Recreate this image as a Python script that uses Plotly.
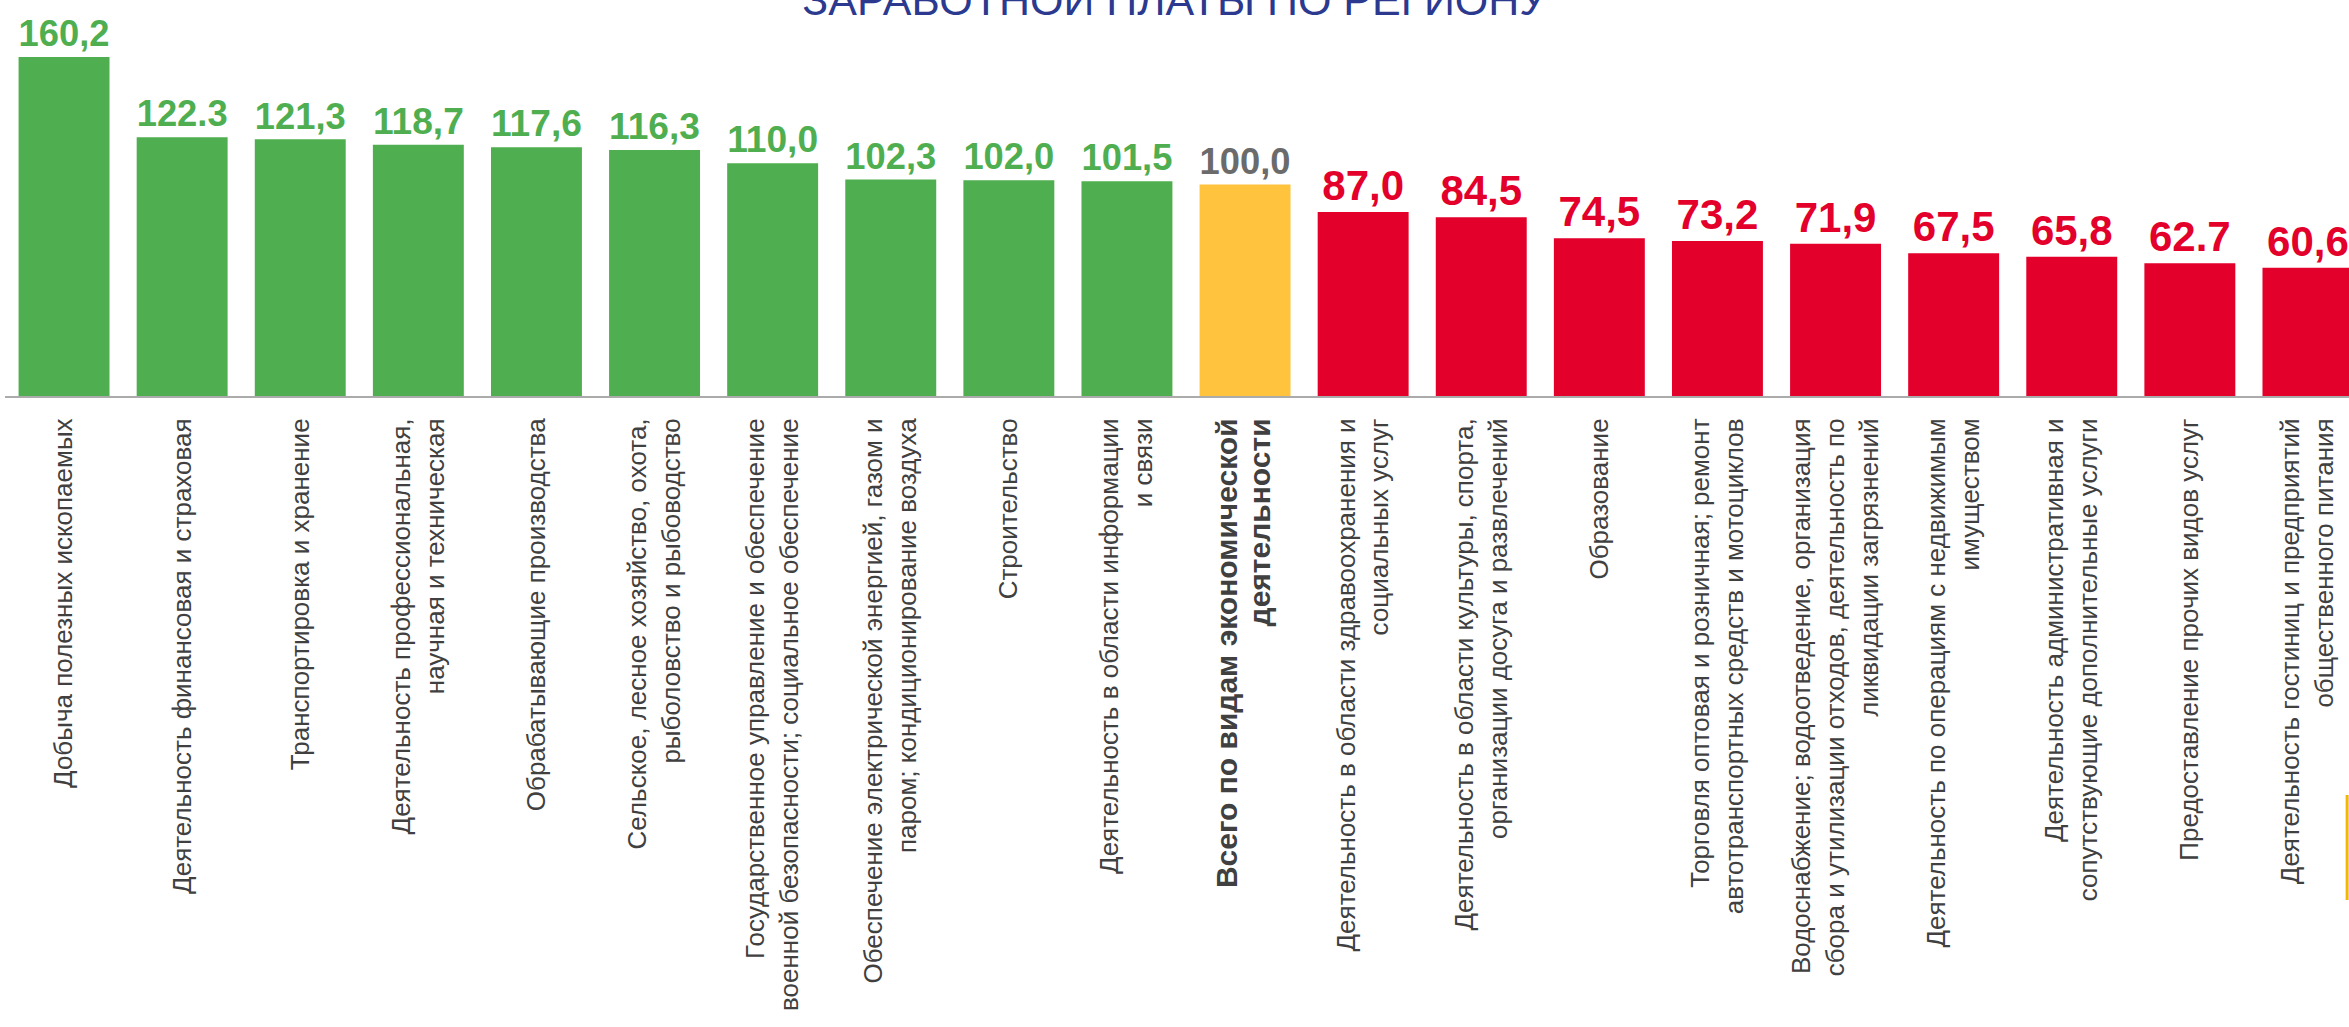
import plotly.graph_objects as go

categories = [
    "Добыча полезных ископаемых",
    "Деятельность финансовая и страховая",
    "Транспортировка и хранение",
    "Деятельность профессиональная,<br>научная и техническая",
    "Обрабатывающие производства",
    "Сельское, лесное хозяйство, охота,<br>рыболовство и рыбоводство",
    "Государственное управление и обеспечение<br>военной безопасности; социальное обеспечение",
    "Обеспечение электрической энергией, газом и<br>паром; кондиционирование воздуха",
    "Строительство",
    "Деятельность в области информации<br>и связи",
    "<span style='font-size:30px'><b>Всего по видам экономической<br>деятельности</b></span>",
    "Деятельность в области здравоохранения и<br>социальных услуг",
    "Деятельность в области культуры, спорта,<br>организации досуга и развлечений",
    "Образование",
    "Торговля оптовая и розничная; ремонт<br>автотранспортных средств и мотоциклов",
    "Водоснабжение; водоотведение, организация<br>сбора и утилизации отходов, деятельность по<br>ликвидации загрязнений",
    "Деятельность по операциям с недвижимым<br>имуществом",
    "Деятельность административная и<br>сопутствующие дополнительные услуги",
    "Предоставление прочих видов услуг",
    "Деятельность гостиниц и предприятий<br>общественного питания",
]

values = [160.2, 122.3, 121.3, 118.7, 117.6, 116.3, 110.0, 102.3, 102.0, 101.5,
          100.0, 87.0, 84.5, 74.5, 73.2, 71.9, 67.5, 65.8, 62.7, 60.6]

value_labels = ["160,2", "122.3", "121,3", "118,7", "117,6", "116,3", "110,0", "102,3",
                "102,0", "101,5", "100,0", "87,0", "84,5", "74,5", "73,2", "71,9",
                "67,5", "65,8", "62.7", "60,6"]

GREEN = "#4FAE4F"
YELLOW = "#FFC33D"
RED = "#E3002B"
GREY_TXT = "#6B6B6B"
TOTAL = 100.0

bar_colors = [GREEN if v > TOTAL else (YELLOW if v == TOTAL else RED) for v in values]
text_colors = [GREEN if v > TOTAL else (GREY_TXT if v == TOTAL else RED) for v in values]

x_idx = list(range(len(categories)))

fig = go.Figure()
fig.add_trace(go.Bar(
    x=x_idx,
    y=values,
    marker=dict(color=bar_colors, line=dict(width=0)),
    text=value_labels,
    textposition="outside",
    textfont=dict(family="Liberation Sans, Arial, sans-serif", size=42,
                  color=text_colors, weight="bold"),
    cliponaxis=False,
    hoverinfo="skip",
))

W, H = 2349, 1027
ml, mr, mt, mb = 5, 0, 0, 631
plot_w = W - ml - mr
step = 118.1
x_max = -0.5 + plot_w / step

fig.update_layout(
    width=W, height=H,
    margin=dict(l=ml, r=mr, t=mt, b=mb, pad=0, autoexpand=False),
    paper_bgcolor="white",
    plot_bgcolor="white",
    bargap=0.23,
    showlegend=False,
    title=dict(
        text="ЗАРАБОТНОЙ ПЛАТЫ ПО РЕГИОНУ",
        font=dict(family="Liberation Sans, Arial, sans-serif", size=43, color="#2B3A8F"),
        x=0.5, xanchor="center", xref="container",
        y=1.0, yanchor="middle", yref="container",
    ),
    xaxis=dict(
        tickmode="array",
        tickvals=x_idx,
        ticktext=categories,
        tickangle=-90,
        tickfont=dict(family="Liberation Sans, Arial, sans-serif", size=26, color="#404040"),
        range=[-0.5, x_max],
        showline=True,
        linecolor="#ABABAB",
        linewidth=2,
        showgrid=False,
        zeroline=False,
        ticks="",
        ticklabelstandoff=10,
        automargin=False,
        fixedrange=True,
    ),
    yaxis=dict(
        range=[0, 396 / 2.116],
        visible=False,
        showgrid=False,
        zeroline=False,
        automargin=False,
        fixedrange=True,
    ),
    shapes=[dict(
        type="line", xref="paper", yref="paper",
        x0=0.9992, x1=0.9992, y0=-1.0076, y1=-1.2727,
        line=dict(color="#F2B705", width=3),
    )],
)

fig.write_html(
    "out.html",
    config={"displayModeBar": False},
    post_script="document.body.style.margin='0px';document.body.style.overflow='hidden';",
)
